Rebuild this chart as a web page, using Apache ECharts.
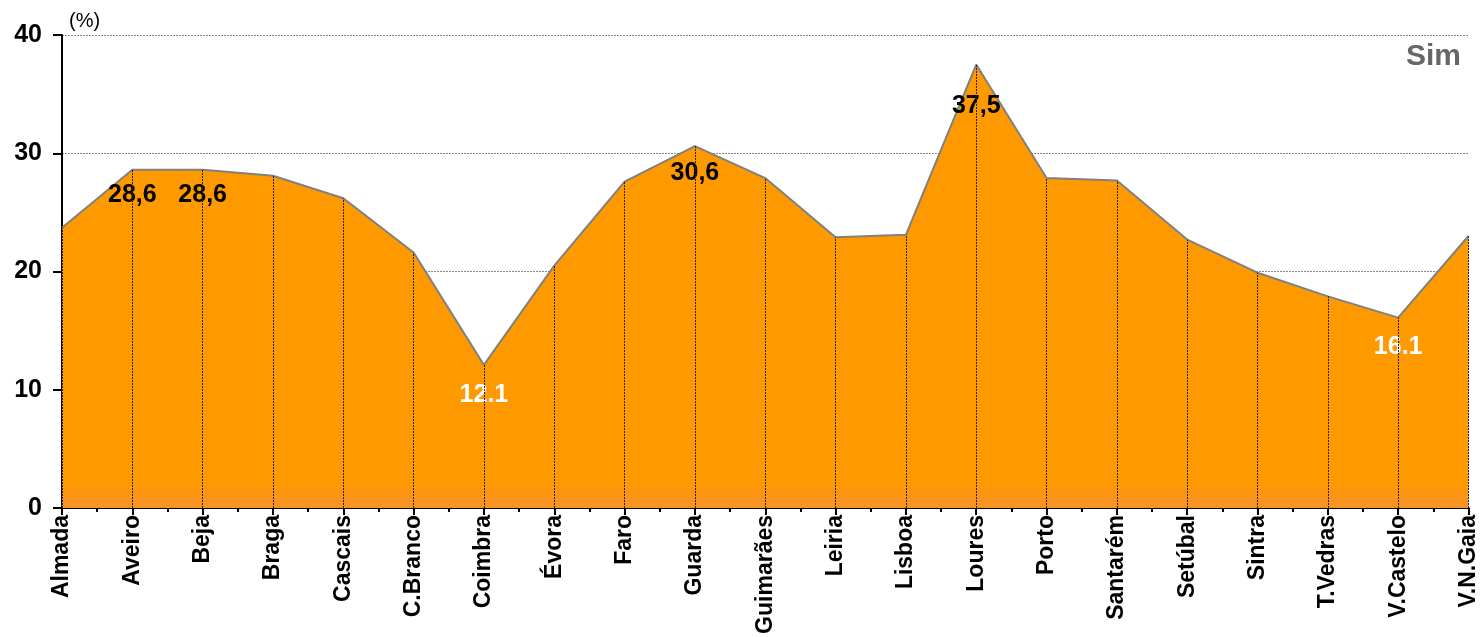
<!DOCTYPE html>
<html><head><meta charset="utf-8">
<script src="https://cdn.jsdelivr.net/npm/echarts@6/dist/echarts.min.js"></script>
<style>html,body{margin:0;padding:0;background:#fff}#c{width:1480px;height:637px}</style>
</head><body><div id="c"></div>
<script>
const categories = ['Almada','Aveiro','Beja','Braga','Cascais','C.Branco','Coimbra','Évora','Faro','Guarda','Guimarães','Leiria','Lisboa','Loures','Porto','Santarém','Setúbal','Sintra','T.Vedras','V.Castelo','V.N.Gaia'];
const values = [23.7,28.6,28.6,28.1,26.2,21.6,12.1,20.5,27.6,30.6,27.9,22.9,23.1,37.5,27.9,27.7,22.7,19.9,17.9,16.1,23.0];
const labelTexts = {1:'28,6',2:'28,6',6:'12.1',9:'30,6',13:'37,5',19:'16.1'};
const labelColors = {1:'#000',2:'#000',6:'#fff',9:'#000',13:'#000',19:'#fff'};
const yTicks = [0,10,20,30,40];

const FONT = '"Liberation Sans", Arial, sans-serif';
const chart = echarts.init(document.getElementById('c'), null, {renderer:'canvas'});

const labelDist = {1:13,2:13,6:18,9:14,13:29,19:17};
const seriesData = values.map((v,i)=>{
  const d = {value:v};
  if (labelTexts[i]) {
    d.label = {show:true, position:'bottom', distance:labelDist[i], formatter:labelTexts[i], color:labelColors[i],
      fontSize:25, fontWeight:'bold', fontFamily:FONT};
  }
  return d;
});

const dropLines = values.map((v,i)=>[{coord:[i,0]},{coord:[i,v]}]);

chart.setOption({
  animation:false,
  grid:{left:62,right:11,top:35,bottom:129,containLabel:false},
  title:[
    {text:'Sim', right:14, top:37, textStyle:{color:'#666',fontSize:30,fontWeight:'bold',fontFamily:FONT}},
    {text:'(%)', left:64, top:6, textStyle:{color:'#000',fontSize:20,fontWeight:'normal',fontFamily:FONT}}
  ],
  xAxis:[{type:'category', data:categories, boundaryGap:false,
    axisLine:{lineStyle:{color:'#000',width:2}},
    axisTick:{show:true, length:7, lineStyle:{color:'#000',width:2}},
    axisLabel:{rotate:90, interval:0, color:'#000', fontSize:23, fontWeight:'bold', fontFamily:FONT, margin:7},
    splitLine:{show:false}
  },{type:'value', min:0, max:(categories.length-1)*2, interval:1, position:'bottom',
    axisLine:{show:false}, axisLabel:{show:false}, splitLine:{show:false},
    axisTick:{show:true, length:4, lineStyle:{color:'#000',width:2}}}],
  yAxis:{type:'value', min:0, max:40, interval:10,
    axisLine:{show:true, lineStyle:{color:'#000',width:2}},
    axisTick:{show:true, length:9, lineStyle:{color:'#000',width:2}},
    axisLabel:{color:'#000', fontSize:25, fontWeight:'bold', fontFamily:FONT, margin:20},
    splitLine:{show:true, lineStyle:{color:'#888', type:[2,1], width:1}}
  },
  series:[
    {type:'line', data:seriesData, symbol:'circle', symbolSize:0.1, showSymbol:true, z:3,
      itemStyle:{color:'rgba(0,0,0,0)'},
      lineStyle:{color:'#808080', width:2},
      areaStyle:{opacity:1, color:new echarts.graphic.LinearGradient(0,0,0,1,[
        {offset:0,color:'#ff9900'},{offset:0.94,color:'#ff9900'},{offset:1,color:'#f7922a'}], false)},
      markLine:{silent:true, symbol:['none','none'], label:{show:false},
        lineStyle:{color:'#222', type:[2,1], width:1}, data:dropLines}
    }
  ]
});
</script></body></html>
